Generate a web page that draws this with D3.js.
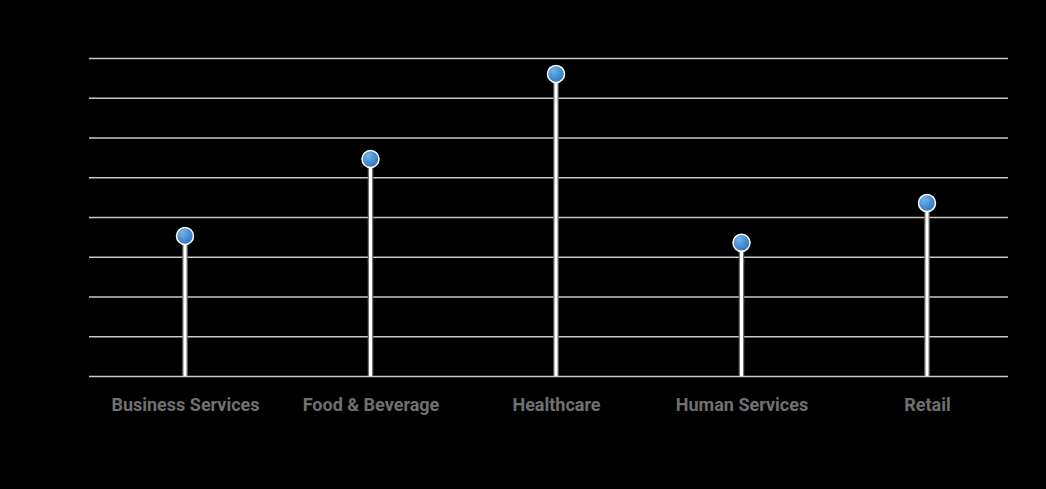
<!DOCTYPE html>
<html>
<head>
<meta charset="utf-8">
<script src="https://cdn.jsdelivr.net/npm/d3@7"></script>
<style>
  html, body { margin: 0; padding: 0; background: #000; }
  svg { display: block; }
</style>
</head>
<body>
<svg id="chart" width="1046" height="489"></svg>
<script>
const categories = ["Business Services", "Food & Beverage", "Healthcare", "Human Services", "Retail"];
const values = [35.2, 54.6, 76.0, 33.5, 43.5];
const yTicks = [0, 10, 20, 30, 40, 50, 60, 70, 80];

const svg = d3.select("#chart");
const W = 1046, H = 489;
const margin = { left: 89, right: 38, top: 58, bottom: 113 };
const plotW = W - margin.left - margin.right;
const plotH = H - margin.top - margin.bottom;

svg.append("rect").attr("width", W).attr("height", H).attr("fill", "#000");

const defs = svg.append("defs");
const grad = defs.append("radialGradient").attr("id", "dotGrad")
  .attr("cx", "35%").attr("cy", "30%").attr("r", "75%");
grad.append("stop").attr("offset", "0%").attr("stop-color", "#6fb3ea");
grad.append("stop").attr("offset", "100%").attr("stop-color", "#2b73bd");

const g = svg.append("g").attr("transform", `translate(${margin.left},${margin.top})`);

const x = d3.scalePoint().domain(categories).range([96, 838]);
const y = d3.scaleLinear().domain([0, 80]).range([plotH, 0]);

// grid
const yAxis = d3.axisLeft(y).tickValues(yTicks).tickSize(-plotW).tickFormat("");
const yg = g.append("g").call(yAxis);
yg.select(".domain").remove();
yg.selectAll(".tick line").attr("stroke", "#c8c8c8").attr("stroke-width", 1.5);

// x axis labels
const xAxis = d3.axisBottom(x).tickSize(0).tickPadding(22);
const xg = g.append("g").attr("transform", `translate(0,${plotH})`).call(xAxis);
xg.select(".domain").remove();
xg.selectAll(".tick text")
  .attr("fill", "#707070")
  .attr("font-family", "Roboto, sans-serif")
  .attr("font-weight", "bold")
  .attr("font-size", 18);

// stems
const stems = g.append("g").selectAll("g").data(categories).join("g");
stems.append("line")
  .attr("x1", d => x(d)).attr("x2", d => x(d))
  .attr("y1", y(0)).attr("y2", (d, i) => y(values[i]))
  .attr("stroke", "#707070").attr("stroke-width", 5.5);
stems.append("line")
  .attr("x1", d => x(d)).attr("x2", d => x(d))
  .attr("y1", y(0)).attr("y2", (d, i) => y(values[i]))
  .attr("stroke", "#ffffff").attr("stroke-width", 3);

// dots
g.append("g").selectAll("circle").data(categories).join("circle")
  .attr("cx", d => x(d))
  .attr("cy", (d, i) => y(values[i]))
  .attr("r", 8.5)
  .attr("fill", "url(#dotGrad)")
  .attr("stroke", "#ffffff")
  .attr("stroke-width", 1.5);
</script>
</body>
</html>
